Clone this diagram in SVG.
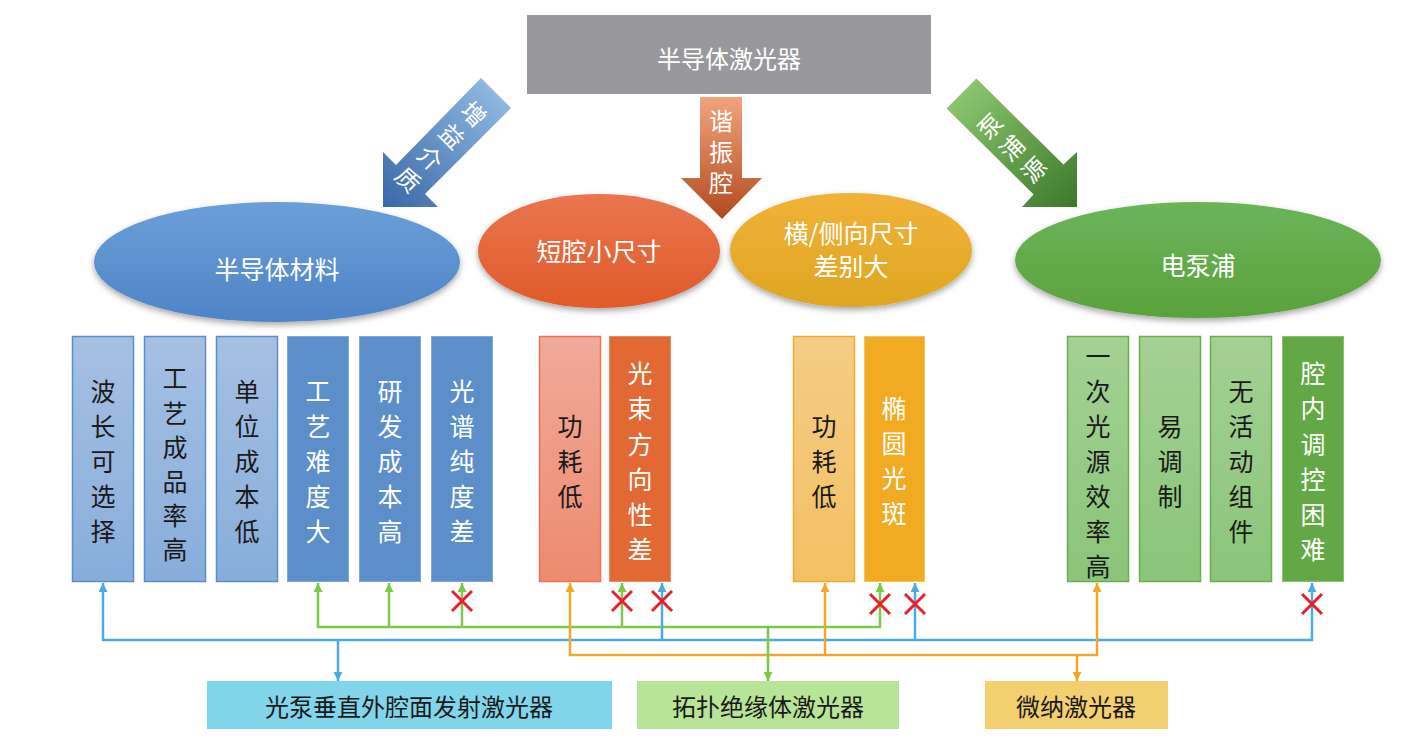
<svg xmlns="http://www.w3.org/2000/svg" width="1412" height="746" viewBox="0 0 1412 746">
<style>
text{font-family:"Noto Sans CJK SC","Noto Sans",sans-serif;text-anchor:middle;dominant-baseline:central}
.w{fill:#ffffff}
.k{fill:#1a1a1a}
.t25{font-size:25px}
.t24{font-size:24px}
.t23{font-size:23px}
.cb{fill:none;stroke:#4ca9e2;stroke-width:2.5}
.cg{fill:none;stroke:#7cc84a;stroke-width:2.5}
.co{fill:none;stroke:#f0a926;stroke-width:2.5}
.x{fill:none;stroke:#e8202e;stroke-width:3}
</style>
<defs>
<linearGradient id="gBlueArrow" x1="1" y1="0" x2="0" y2="1"><stop offset="0" stop-color="#98c2e8"/><stop offset="1" stop-color="#3a68a8"/></linearGradient>
<linearGradient id="gGreenArrow" x1="0" y1="0" x2="1" y2="1"><stop offset="0" stop-color="#94cf76"/><stop offset="1" stop-color="#3b782a"/></linearGradient>
<linearGradient id="gOrangeArrow" x1="0" y1="0" x2="0" y2="1"><stop offset="0" stop-color="#f2a47e"/><stop offset="1" stop-color="#b24a1e"/></linearGradient>
<linearGradient id="gEB" x1="0" y1="0" x2="0" y2="1"><stop offset="0" stop-color="#6b9fd8"/><stop offset="1" stop-color="#4e84c6"/></linearGradient>
<linearGradient id="gEO" x1="0" y1="0" x2="0" y2="1"><stop offset="0" stop-color="#ea7550"/><stop offset="1" stop-color="#e05a28"/></linearGradient>
<linearGradient id="gEY" x1="0" y1="0" x2="0" y2="1"><stop offset="0" stop-color="#f1b238"/><stop offset="1" stop-color="#dea622"/></linearGradient>
<linearGradient id="gEG" x1="0" y1="0" x2="0" y2="1"><stop offset="0" stop-color="#6cb45a"/><stop offset="1" stop-color="#5aa23c"/></linearGradient>
<linearGradient id="gLB" x1="0" y1="0" x2="0" y2="1"><stop offset="0" stop-color="#a5c0e2"/><stop offset="1" stop-color="#88addb"/></linearGradient>
<linearGradient id="gLO" x1="0" y1="0" x2="0" y2="1"><stop offset="0" stop-color="#f0aa9a"/><stop offset="1" stop-color="#ee8a70"/></linearGradient>
<linearGradient id="gLY" x1="0" y1="0" x2="0" y2="1"><stop offset="0" stop-color="#f5cc85"/><stop offset="1" stop-color="#f3c063"/></linearGradient>
<linearGradient id="gLG" x1="0" y1="0" x2="0" y2="1"><stop offset="0" stop-color="#a3d194"/><stop offset="1" stop-color="#8bc47a"/></linearGradient>
<filter id="sh" x="-10%" y="-20%" width="120%" height="145%"><feDropShadow dx="0" dy="3" stdDeviation="3" flood-color="#000" flood-opacity="0.35"/></filter>
<marker id="mb" viewBox="0 0 10 10" refX="10" refY="5" markerWidth="9" markerHeight="9" markerUnits="userSpaceOnUse" orient="auto"><path d="M0,0 L10,5 L0,10 z" fill="#4ca9e2"/></marker>
<marker id="mg" viewBox="0 0 10 10" refX="10" refY="5" markerWidth="9" markerHeight="9" markerUnits="userSpaceOnUse" orient="auto"><path d="M0,0 L10,5 L0,10 z" fill="#7cc84a"/></marker>
<marker id="mo" viewBox="0 0 10 10" refX="10" refY="5" markerWidth="9" markerHeight="9" markerUnits="userSpaceOnUse" orient="auto"><path d="M0,0 L10,5 L0,10 z" fill="#f0a926"/></marker>
</defs>
<rect width="1412" height="746" fill="#ffffff"/>

<g id="top">
<rect x="527" y="15" width="404" height="79" fill="#99999d"/>
<text x="729" y="57" class="w t24">半导体激光器</text>
</g>

<g id="arrow-gain">
<polygon points="481,78 511,108 425,194 438,207 383,207 383,152 396,165" fill="url(#gBlueArrow)"/>
<g transform="translate(442,146) rotate(45)" class="w t24">
<text x="0" y="-46.5">增</text><text x="0" y="-15.5">益</text><text x="0" y="15.5">介</text><text x="0" y="46.5">质</text>
</g>
</g>

<g id="arrow-cavity">
<polygon points="700,97 742,97 742,178 762,178 722,219 681,178 700,178" fill="url(#gOrangeArrow)"/>
<text x="721" y="155" class="w t24" writing-mode="vertical-rl" letter-spacing="7">谐振腔</text>
</g>

<g id="arrow-pump">
<polygon points="946.6,108.4 976.4,78.6 1063.4,164.6 1077,152 1077,207 1022,207 1033.6,194.4" fill="url(#gGreenArrow)"/>
<g transform="translate(1011,147) rotate(-45)" class="w t24">
<text x="0" y="-31">泵</text><text x="0" y="0">浦</text><text x="0" y="31">源</text>
</g>
</g>

<g id="ellipse-material">
<ellipse cx="277" cy="262" rx="183" ry="60" fill="url(#gEB)" filter="url(#sh)"/>
<text x="277" y="268" class="w t25">半导体材料</text>
</g>
<g id="ellipse-short">
<ellipse cx="599" cy="251" rx="121" ry="57" fill="url(#gEO)" filter="url(#sh)"/>
<text x="599" y="250" class="w t25">短腔小尺寸</text>
</g>
<g id="ellipse-size">
<ellipse cx="851" cy="250" rx="121" ry="57" fill="url(#gEY)" filter="url(#sh)"/>
<text x="851" y="232" class="w t25">横/侧向尺寸</text>
<text x="851" y="265" class="w t25">差别大</text>
</g>
<g id="ellipse-electric">
<ellipse cx="1198" cy="260" rx="183" ry="58" fill="url(#gEG)" filter="url(#sh)"/>
<text x="1198" y="264" class="w t25">电泵浦</text>
</g>

<g id="box-1">
<rect x="72.5" y="336.5" width="61" height="245" fill="url(#gLB)" stroke="#5b8dcf" stroke-width="1.5"/>
<g class="k t25"><text x="103" y="390">波</text><text x="103" y="425">长</text><text x="103" y="460">可</text><text x="103" y="495">选</text><text x="103" y="530">择</text></g>
</g>
<g id="box-2">
<rect x="144.5" y="336.5" width="61" height="245" fill="url(#gLB)" stroke="#5b8dcf" stroke-width="1.5"/>
<g class="k t25"><text x="175" y="377">工</text><text x="175" y="412">艺</text><text x="175" y="446">成</text><text x="175" y="480">品</text><text x="175" y="514">率</text><text x="175" y="548">高</text></g>
</g>
<g id="box-3">
<rect x="216.5" y="336.5" width="61" height="245" fill="url(#gLB)" stroke="#5b8dcf" stroke-width="1.5"/>
<g class="k t25"><text x="247" y="390">单</text><text x="247" y="425">位</text><text x="247" y="460">成</text><text x="247" y="495">本</text><text x="247" y="530">低</text></g>
</g>
<g id="box-4">
<rect x="287.5" y="336.5" width="61" height="245" fill="#5c8fca" stroke="#7ea8da" stroke-width="1"/>
<g class="w t25"><text x="318" y="390">工</text><text x="318" y="425">艺</text><text x="318" y="460">难</text><text x="318" y="495">度</text><text x="318" y="530">大</text></g>
</g>
<g id="box-5">
<rect x="359.5" y="336.5" width="61" height="245" fill="#5c8fca" stroke="#7ea8da" stroke-width="1"/>
<g class="w t25"><text x="390" y="390">研</text><text x="390" y="425">发</text><text x="390" y="460">成</text><text x="390" y="495">本</text><text x="390" y="530">高</text></g>
</g>
<g id="box-6">
<rect x="431.5" y="336.5" width="61" height="245" fill="#5c8fca" stroke="#7ea8da" stroke-width="1"/>
<g class="w t25"><text x="462" y="390">光</text><text x="462" y="425">谱</text><text x="462" y="460">纯</text><text x="462" y="495">度</text><text x="462" y="530">差</text></g>
</g>

<g id="box-7">
<rect x="539.5" y="336.5" width="61" height="245" fill="url(#gLO)" stroke="#e87454" stroke-width="1.5"/>
<g class="k t25"><text x="570" y="425">功</text><text x="570" y="460">耗</text><text x="570" y="495">低</text></g>
</g>
<g id="box-8">
<rect x="609.5" y="336.5" width="61" height="245" fill="#e26834" stroke="#ec8a60" stroke-width="1"/>
<g class="w t25"><text x="640" y="372">光</text><text x="640" y="407">束</text><text x="640" y="443">方</text><text x="640" y="478">向</text><text x="640" y="513">性</text><text x="640" y="548">差</text></g>
</g>

<g id="box-9">
<rect x="793.5" y="336.5" width="61" height="245" fill="url(#gLY)" stroke="#f0a830" stroke-width="1.5"/>
<g class="k t25"><text x="824" y="425">功</text><text x="824" y="460">耗</text><text x="824" y="495">低</text></g>
</g>
<g id="box-10">
<rect x="864.5" y="336.5" width="60" height="245" fill="#f0ab22" stroke="#f6c45a" stroke-width="1"/>
<g class="w t25"><text x="894" y="407">椭</text><text x="894" y="442">圆</text><text x="894" y="477">光</text><text x="894" y="512">斑</text></g>
</g>

<g id="box-11">
<rect x="1067.5" y="336.5" width="61" height="245" fill="url(#gLG)" stroke="#6aae50" stroke-width="1.5"/>
<g class="k t25"><text x="1098" y="355">一</text><text x="1098" y="390">次</text><text x="1098" y="425">光</text><text x="1098" y="460">源</text><text x="1098" y="495">效</text><text x="1098" y="530">率</text><text x="1098" y="565">高</text></g>
</g>
<g id="box-12">
<rect x="1139.5" y="336.5" width="61" height="245" fill="url(#gLG)" stroke="#6aae50" stroke-width="1.5"/>
<g class="k t25"><text x="1170" y="425">易</text><text x="1170" y="460">调</text><text x="1170" y="495">制</text></g>
</g>
<g id="box-13">
<rect x="1210.5" y="336.5" width="61" height="245" fill="url(#gLG)" stroke="#6aae50" stroke-width="1.5"/>
<g class="k t25"><text x="1241" y="390">无</text><text x="1241" y="425">活</text><text x="1241" y="460">动</text><text x="1241" y="495">组</text><text x="1241" y="530">件</text></g>
</g>
<g id="box-14">
<rect x="1282.5" y="336.5" width="61" height="245" fill="#62a844" stroke="#88c270" stroke-width="1"/>
<g class="w t25"><text x="1313" y="372">腔</text><text x="1313" y="407">内</text><text x="1313" y="443">调</text><text x="1313" y="478">控</text><text x="1313" y="513">困</text><text x="1313" y="548">难</text></g>
</g>

<g id="connectors">
<path class="cg" d="M768,627 H318 V583" marker-end="url(#mg)"/>
<path class="cg" d="M768,627 H880 V583" marker-end="url(#mg)"/>
<path class="cg" d="M389,627 V583" marker-end="url(#mg)"/>
<path class="cg" d="M462,627 V583" marker-end="url(#mg)"/>
<path class="cg" d="M622,627 V583" marker-end="url(#mg)"/>
<path class="cb" d="M338,640 H103 V583" marker-end="url(#mb)"/>
<path class="cb" d="M338,640 H1312 V583" marker-end="url(#mb)"/>
<path class="cb" d="M662,640 V583" marker-end="url(#mb)"/>
<path class="cb" d="M915,640 V583" marker-end="url(#mb)"/>
<path class="cb" d="M338,640 V681" marker-end="url(#mb)"/>
<path class="co" d="M1077,655 H570 V583" marker-end="url(#mo)"/>
<path class="co" d="M1077,655 H1097 V583" marker-end="url(#mo)"/>
<path class="co" d="M825,655 V583" marker-end="url(#mo)"/>
<path class="co" d="M1077,655 V681" marker-end="url(#mo)"/>
<path class="cg" d="M768,627 V681" marker-end="url(#mg)"/>
</g>

<g id="crosses">
<path class="x" d="M452,591 L472,611 M472,591 L452,611"/>
<path class="x" d="M612,591 L632,611 M632,591 L612,611"/>
<path class="x" d="M652,591 L672,611 M672,591 L652,611"/>
<path class="x" d="M870,594 L890,614 M890,594 L870,614"/>
<path class="x" d="M905,594 L925,614 M925,594 L905,614"/>
<path class="x" d="M1302,594 L1322,614 M1322,594 L1302,614"/>
</g>

<g id="laser-vcsel">
<rect x="207" y="681" width="405" height="48" fill="#80d5ea"/>
<text x="409" y="705" class="k t24">光泵垂直外腔面发射激光器</text>
</g>
<g id="laser-topo">
<rect x="637" y="681" width="262" height="48" fill="#b8e497"/>
<text x="768" y="705" class="k t24">拓扑绝缘体激光器</text>
</g>
<g id="laser-micro">
<rect x="985" y="681" width="183" height="48" fill="#f2d070"/>
<text x="1076" y="705" class="k t24">微纳激光器</text>
</g>
</svg>
